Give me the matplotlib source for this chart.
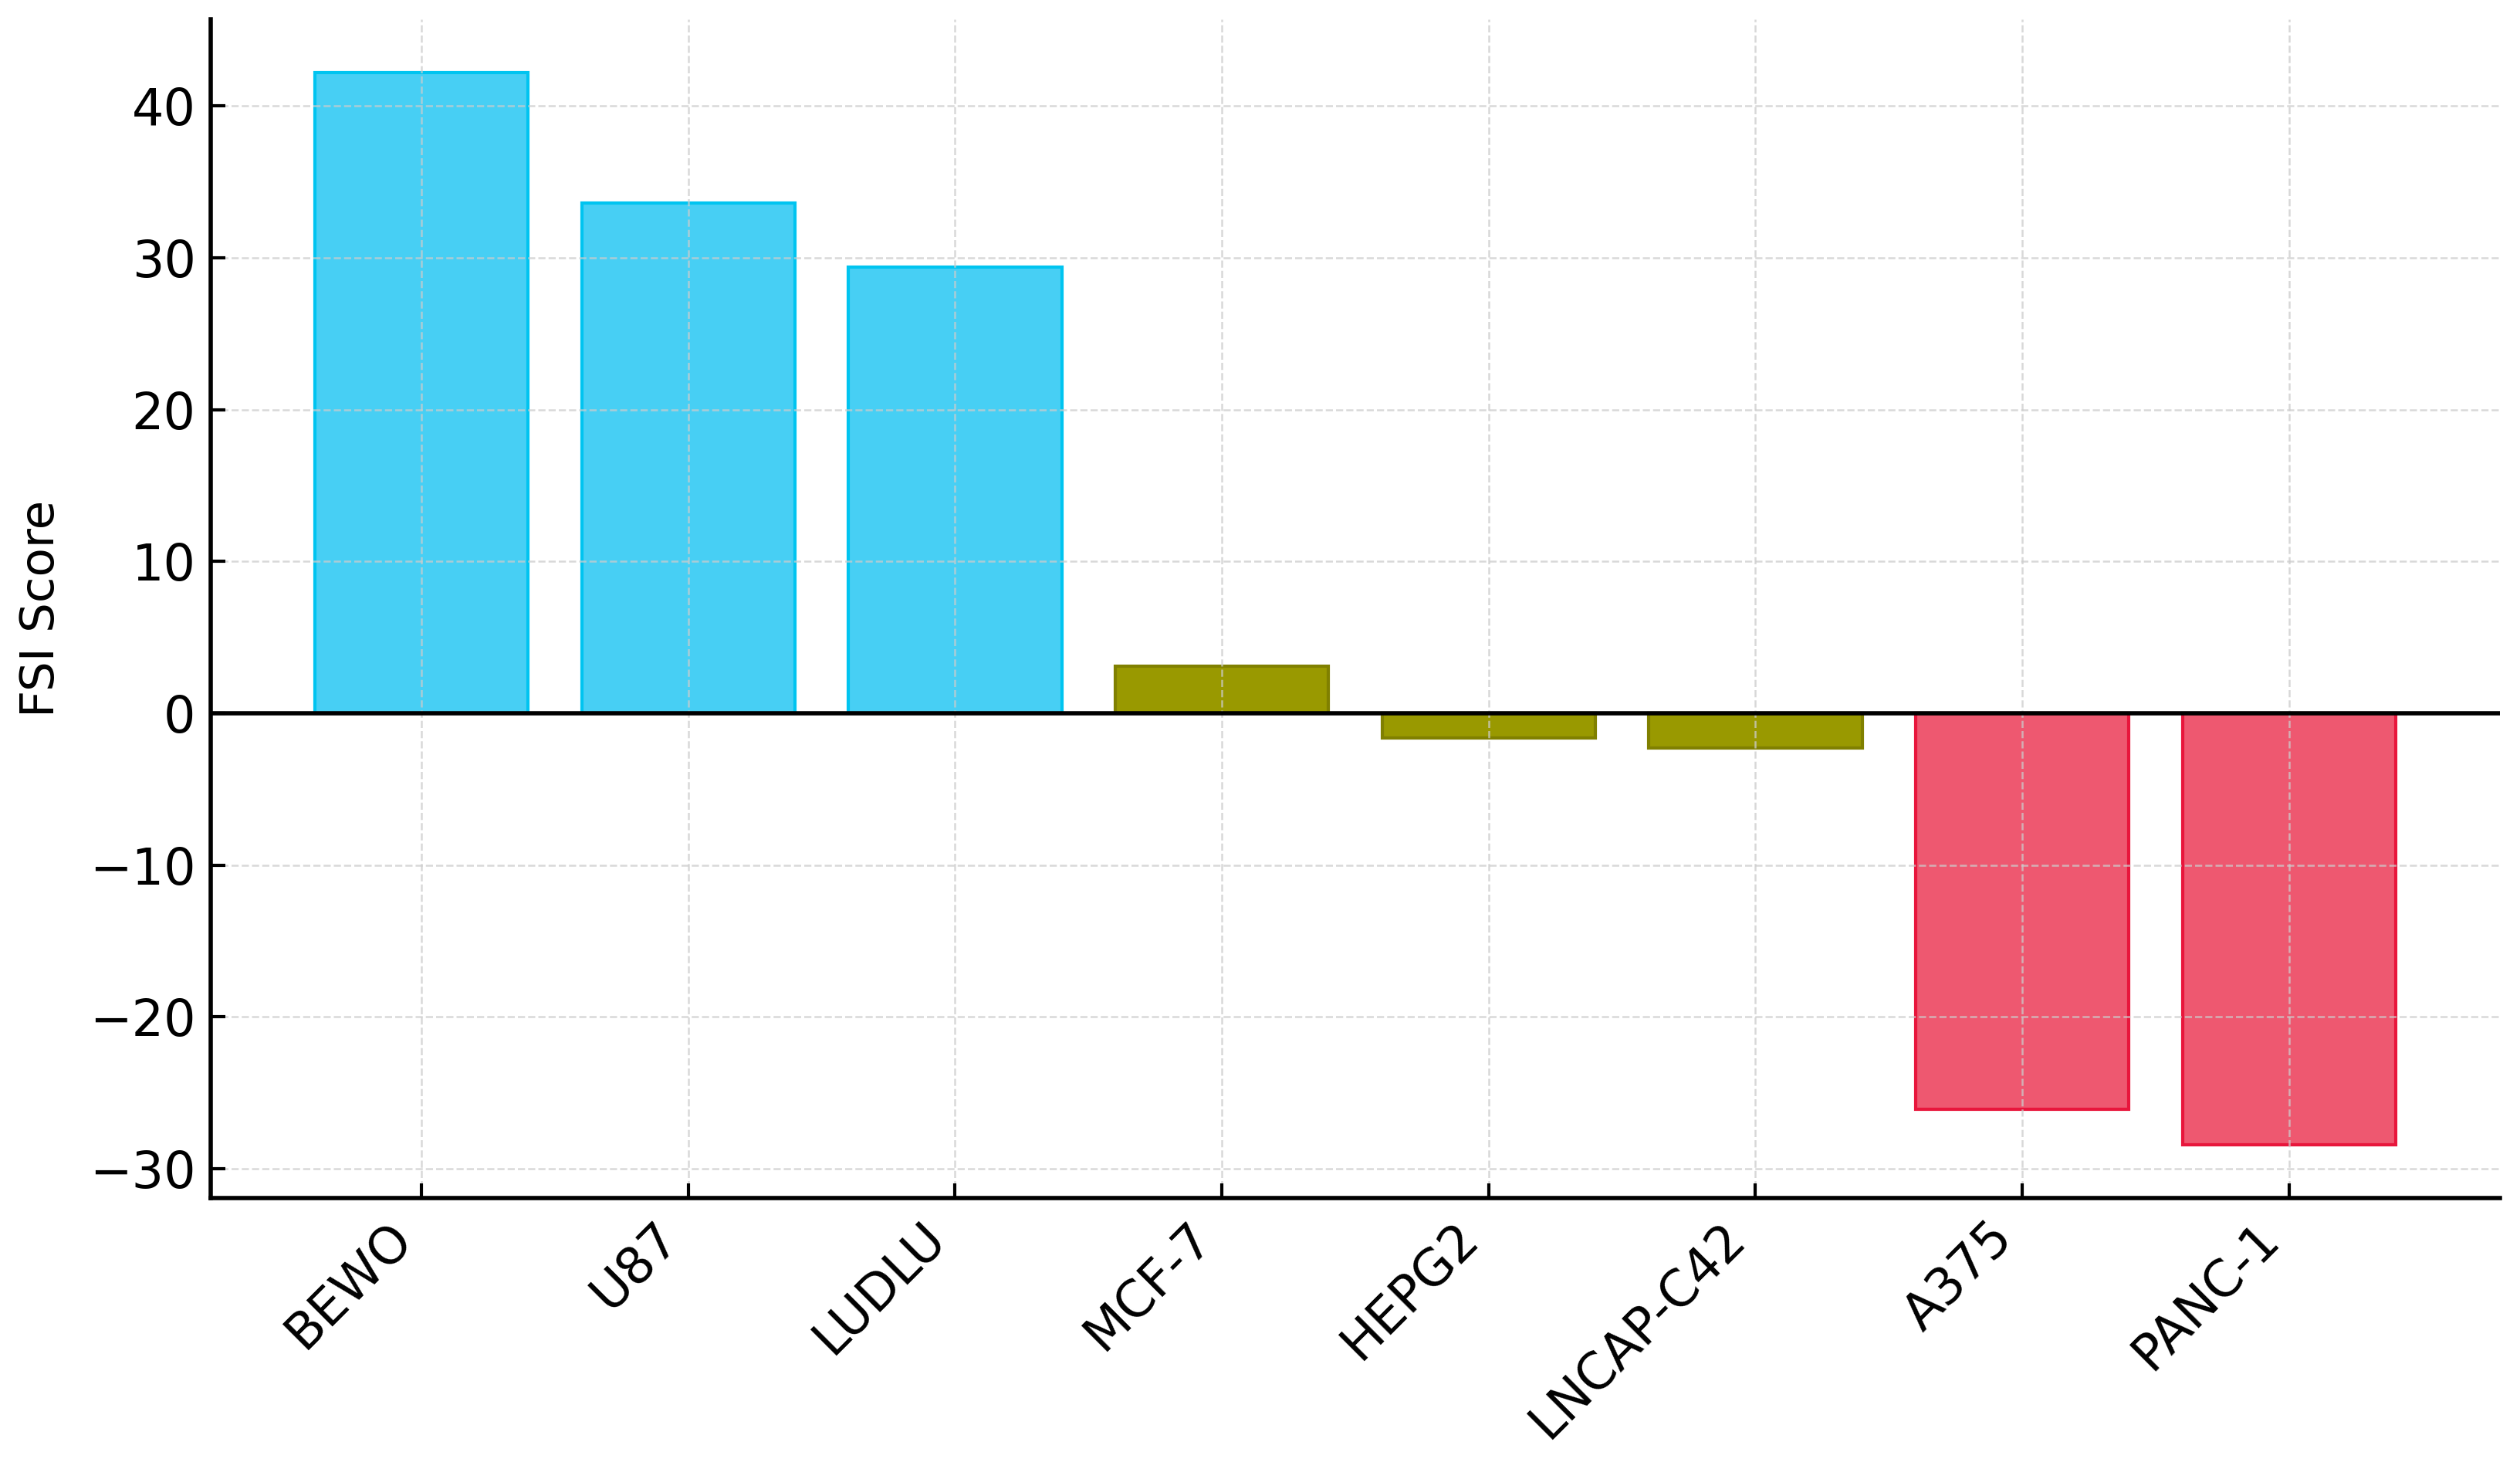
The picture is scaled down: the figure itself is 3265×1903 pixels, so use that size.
import matplotlib.pyplot as plt

# FSI scores per cell line
cell_lines = ['BEWO', 'U87', 'LUDLU', 'MCF-7', 'HEPG2', 'LNCAP-C42', 'A375', 'PANC-1']
fsi_scores = [42.2, 33.6, 29.4, 3.1, -1.6, -2.3, -26.1, -28.4]
groups = ['high', 'high', 'high', 'mid', 'mid', 'mid', 'low', 'low']

fill = {'high': '#47cff4', 'mid': '#999900', 'low': '#ee5870'}
edge = {'high': '#00c4f0', 'mid': '#808000', 'low': '#e8163c'}

fig = plt.figure(figsize=(32.66, 19.03), dpi=100)
ax = fig.add_axes([0.0836, 0.1844, 0.9081, 0.8026])

x = range(len(cell_lines))
ax.bar(x, fsi_scores, width=0.8,
       color=[fill[g] for g in groups],
       edgecolor=[edge[g] for g in groups], linewidth=3, zorder=2)

ax.axhline(0, color='black', linewidth=4, zorder=3)
ax.grid(True, linestyle='--', color='#cccccc', linewidth=1.8, alpha=0.75, zorder=4)
ax.set_axisbelow(False)

ax.set_xticks(list(x))
ax.set_xticklabels(cell_lines, rotation=45, ha='right', fontsize=47)
ax.set_yticks([-30, -20, -10, 0, 10, 20, 30, 40])
ax.set_yticklabels(['\u221230', '\u221220', '\u221210', '0', '10', '20', '30', '40'])
ax.tick_params(axis='y', labelsize=47)
ax.tick_params(direction='in', length=14, width=3, pad=14)
ax.set_ylabel('FSI Score', fontsize=44, labelpad=24)

for side in ['top', 'right']:
    ax.spines[side].set_visible(False)
for side in ['left', 'bottom']:
    ax.spines[side].set_linewidth(4)

fig.savefig('out.png', dpi=100)
